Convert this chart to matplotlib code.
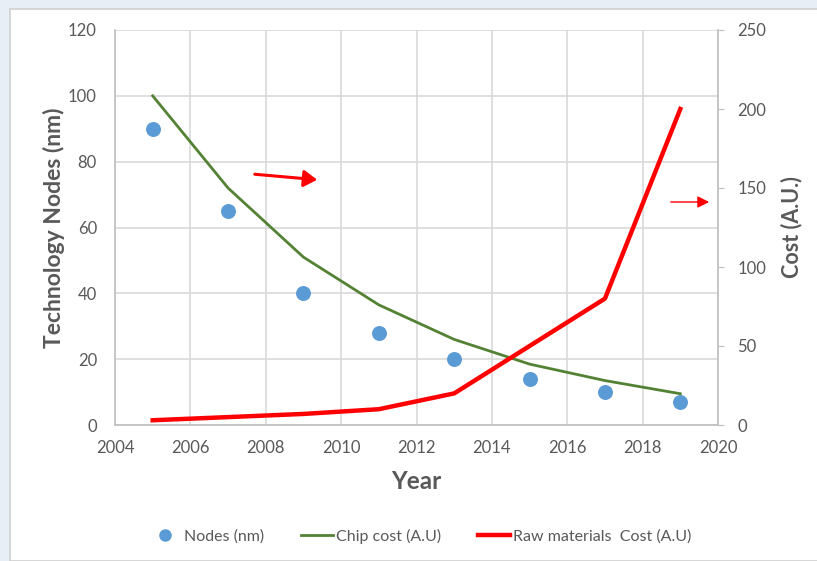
import numpy as np
import matplotlib.pyplot as plt
from matplotlib.patches import Rectangle, FancyArrowPatch
from matplotlib.lines import Line2D

plt.rcParams['font.family'] = ['Lato', 'DejaVu Sans']

# Data
years = [2005, 2007, 2009, 2011, 2013, 2015, 2017, 2019]
nodes_nm = [90, 65, 40, 28, 20, 14, 10, 7]
chip_cost = [100, 72, 51, 36.5, 26, 18.5, 13.5, 9.5]
raw_cost = [3, 5, 7, 10, 20, 50, 80, 200]

grey_text = '#595959'
grid_col = '#d9d9d9'

fig = plt.figure(figsize=(8.17, 5.61), dpi=100)
fig.patch.set_facecolor('#e8eef6')
# white chart panel behind the axes
fig.patches.append(Rectangle((10 / 817, 0), 1, 1 - 9 / 561, transform=fig.transFigure,
                             facecolor='white', edgecolor='#d0d0d0', lw=1.2, zorder=-10))

ax = fig.add_axes([115 / 817, 1 - 425 / 561, (718 - 115) / 817, (425 - 30) / 561])
ax.set_facecolor('white')
ax2 = ax.twinx()

ax.set_xlim(2004, 2020)
ax.set_ylim(0, 120)
ax2.set_ylim(0, 250)
ax.set_xticks(np.arange(2004, 2021, 2))
ax.set_yticks(np.arange(0, 121, 20))
ax2.set_yticks(np.arange(0, 251, 50))

ax.grid(True, color=grid_col, lw=1.2)
ax.set_axisbelow(True)
ax.spines['top'].set_visible(False)
ax2.spines['top'].set_visible(False)
for s in ['left', 'bottom']:
    ax.spines[s].set_color('#bfbfbf')
    ax.spines[s].set_linewidth(1.2)
ax.spines['right'].set_visible(False)
ax2.spines['left'].set_visible(False)
ax2.spines['bottom'].set_visible(False)
ax2.spines['right'].set_color('#bfbfbf')
ax2.spines['right'].set_linewidth(1.2)

ax.tick_params(axis='x', length=0, labelsize=12, labelcolor=grey_text, pad=11)
ax.tick_params(axis='y', length=0, labelsize=12, labelcolor=grey_text, pad=13)
ax2.tick_params(axis='y', length=4, color='#bfbfbf', labelsize=12,
                labelcolor=grey_text, pad=10)

ax.scatter(years, nodes_nm, s=95, color='#5b9bd5', zorder=3)
ax.plot(years, chip_cost, color='#548235', lw=2, zorder=3)
ax2.plot(years, raw_cost, color='#ff0000', lw=3.2, zorder=3)

ax.set_xlabel('Year', fontsize=17.5, fontweight='bold', color=grey_text, labelpad=10)
ax.set_ylabel('Technology Nodes (nm)', fontsize=16.5, fontweight='bold', color=grey_text,
              labelpad=2)
ax2.set_ylabel('Cost (A.U.)', fontsize=15.5, fontweight='bold', color=grey_text,
               labelpad=10)

# direction arrows
fig.patches.append(FancyArrowPatch((252 / 817, 1 - 174 / 561), (320 / 817, 1 - 180 / 561),
                                   transform=fig.transFigure, color='#ff0000', zorder=10,
                                   arrowstyle='-|>,head_length=8,head_width=5', lw=2.2))
fig.patches.append(FancyArrowPatch((668 / 817, 1 - 202 / 561), (712 / 817, 1 - 202 / 561),
                                   transform=fig.transFigure, color='#ff0000', zorder=10,
                                   arrowstyle='-|>,head_length=7,head_width=3.5', lw=1))

handles = [Line2D([], [], marker='o', ls='', color='#5b9bd5', markersize=8),
           Line2D([], [], color='#548235', lw=2),
           Line2D([], [], color='#ff0000', lw=3.2)]
labels = ['Nodes (nm)', 'Chip cost (A.U)', 'Raw materials  Cost (A.U)']
fig.legend(handles, labels, loc='center', bbox_to_anchor=(420 / 817, 1 - 536 / 561),
           ncol=3, frameon=False, fontsize=11.5, labelcolor=grey_text,
           handlelength=2.0, handletextpad=0.2, columnspacing=2.3)

fig.savefig('out.png', dpi=100, facecolor=fig.get_facecolor())
